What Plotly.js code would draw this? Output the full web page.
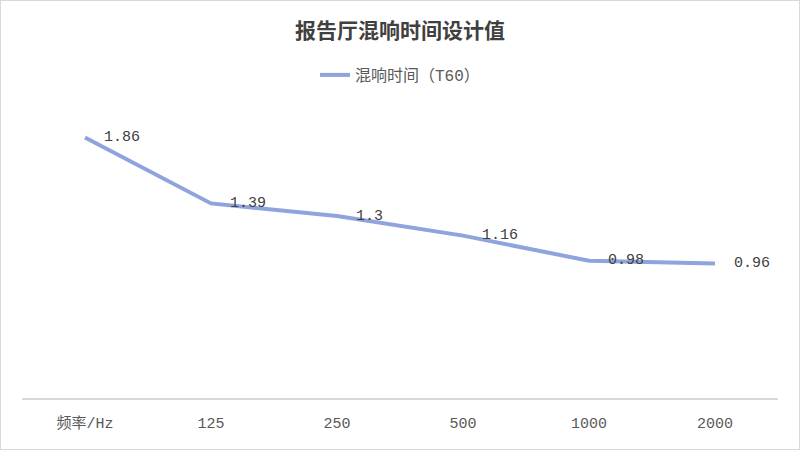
<!DOCTYPE html>
<html>
<head>
<meta charset="utf-8">
<script src="https://cdn.plot.ly/plotly-3.0.1.min.js"></script>
<style>
html,body{margin:0;padding:0;background:#fff;}
#chart{width:800px;height:450px;box-sizing:border-box;border:1px solid #d9d9d9;}
</style>
</head>
<body>
<div id="chart"></div>
<script>
const categories = ["频率/Hz", "125", "250", "500", "1000", "2000"];
const t60Values = [1.86, 1.39, 1.3, 1.16, 0.98, 0.96];
const seriesName = "混响时间（T60）";
const chartTitle = "报告厅混响时间设计值";

const monoFont = "'Liberation Mono', 'Noto Sans CJK SC', monospace";

const trace = {
  x: categories,
  y: t60Values,
  type: "scatter",
  mode: "lines",
  name: seriesName,
  line: {color: "#8fa4dc", width: 4},
  hoverinfo: "x+y"
};

const annotations = categories.map((c, i) => ({
  x: i,
  y: t60Values[i],
  xref: "x",
  yref: "y",
  text: String(t60Values[i]),
  showarrow: false,
  xanchor: "left",
  yanchor: "middle",
  xshift: 17,
  font: {family: monoFont, size: 15, color: "#404040"}
}));

const layout = {
  width: 798,
  height: 448,
  margin: {l: 21, r: 21, t: 117, b: 51},
  paper_bgcolor: "#ffffff",
  plot_bgcolor: "#ffffff",
  title: {
    text: "<b>" + chartTitle + "</b>",
    x: 0.5,
    xanchor: "center",
    y: 1 - 30 / 448,
    yanchor: "middle",
    font: {family: "'Noto Sans CJK SC', sans-serif", size: 21, color: "#404040"}
  },
  showlegend: true,
  legend: {
    orientation: "h",
    x: 0.5,
    xanchor: "center",
    y: 1 + (117 - 74) / 280,
    yanchor: "middle",
    font: {family: monoFont, size: 16, color: "#595959"},
    bgcolor: "rgba(0,0,0,0)"
  },
  xaxis: {
    type: "category",
    categoryorder: "array",
    categoryarray: categories,
    range: [-0.5, categories.length - 0.5],
    autorange: false,
    showgrid: false,
    zeroline: false,
    showline: true,
    linecolor: "#d9d9d9",
    linewidth: 1.5,
    ticks: "",
    ticklabelstandoff: 10,
    tickfont: {family: monoFont, size: 15, color: "#595959"},
    fixedrange: true
  },
  yaxis: {
    range: [0, 2],
    autorange: false,
    visible: false,
    showgrid: false,
    zeroline: false,
    fixedrange: true
  },
  annotations: annotations
};

Plotly.newPlot("chart", [trace], layout, {displayModeBar: false, staticPlot: true});
</script>
</body>
</html>
